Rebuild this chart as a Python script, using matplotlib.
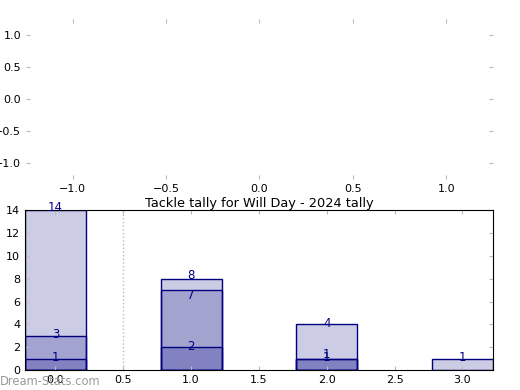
import numpy as np
import matplotlib
matplotlib.use('Agg')
import matplotlib.pyplot as plt

# dados
posicoes = [0, 1, 2, 3]
total = [14, 8, 4, 1]
meio = [3, 7, 1, 0]
base = [1, 2, 1, 0]
titulo = "Tackle tally for Will Day - 2024 tally"

plt.rcParams['font.family'] = 'DejaVu Sans'
fig = plt.figure(figsize=(5.2, 3.9), dpi=100)
fig.patch.set_facecolor('white')

# eixo vazio de cima
ax0 = fig.add_axes([0.05, 0.541, 0.898, 0.41])
ax0.set_xlim(-1.25, 1.25)
ax0.set_ylim(-1.25, 1.25)
ax0.set_xticks([-1.0, -0.5, 0.0, 0.5, 1.0])
ax0.set_yticks([-1.0, -0.5, 0.0, 0.5, 1.0])
for s in ax0.spines.values():
    s.set_visible(False)
ax0.tick_params(direction='in', color='#bbbbbb', labelsize=8, length=3,
                top=True, right=True)

# gráfico de barras
ax = fig.add_axes([0.048, 0.051, 0.9, 0.41])
cor = 'navy'
for serie in (total, meio, base):
    vals = np.array(serie)
    mask = vals > 0
    ax.bar(np.array(posicoes)[mask], vals[mask], width=0.45, color=cor,
           alpha=0.2, edgecolor='none')
    ax.bar(np.array(posicoes)[mask], vals[mask], width=0.45, fill=False,
           edgecolor=cor, linewidth=1)

# rótulos (pequenos deslocamentos para evitar sobreposição)
ajustes = {(1, 'total'): 0.3, (1, 'meio'): -0.5, (2, 'meio'): 0.35,
           (0, 'total'): 0.25}
for nome, serie in (('total', total), ('meio', meio), ('base', base)):
    for x, v in zip(posicoes, serie):
        if v > 0:
            dy = ajustes.get((x, nome), 0.1)
            ax.text(x, v + dy, str(v), ha='center', va='center',
                    color=cor, fontsize=8.5)

ax.axvline(0.5, color='#bbbbbb', linestyle=':', linewidth=1)
ax.set_xlim(-0.225, 3.225)
ax.set_ylim(0, 14)
ax.set_yticks(range(0, 15, 2))
ax.set_xticks([0.0, 0.5, 1.0, 1.5, 2.0, 2.5, 3.0])
ax.tick_params(direction='in', color='#bbbbbb', labelsize=8, length=3,
               top=True, right=True)
ax.set_title(titulo, fontsize=9.3, pad=2)

fig.text(0.0, 0.012, "Dream-Stats.com", color='#999999', fontsize=8.3)

plt.savefig('out.png', dpi=100, facecolor='white')
